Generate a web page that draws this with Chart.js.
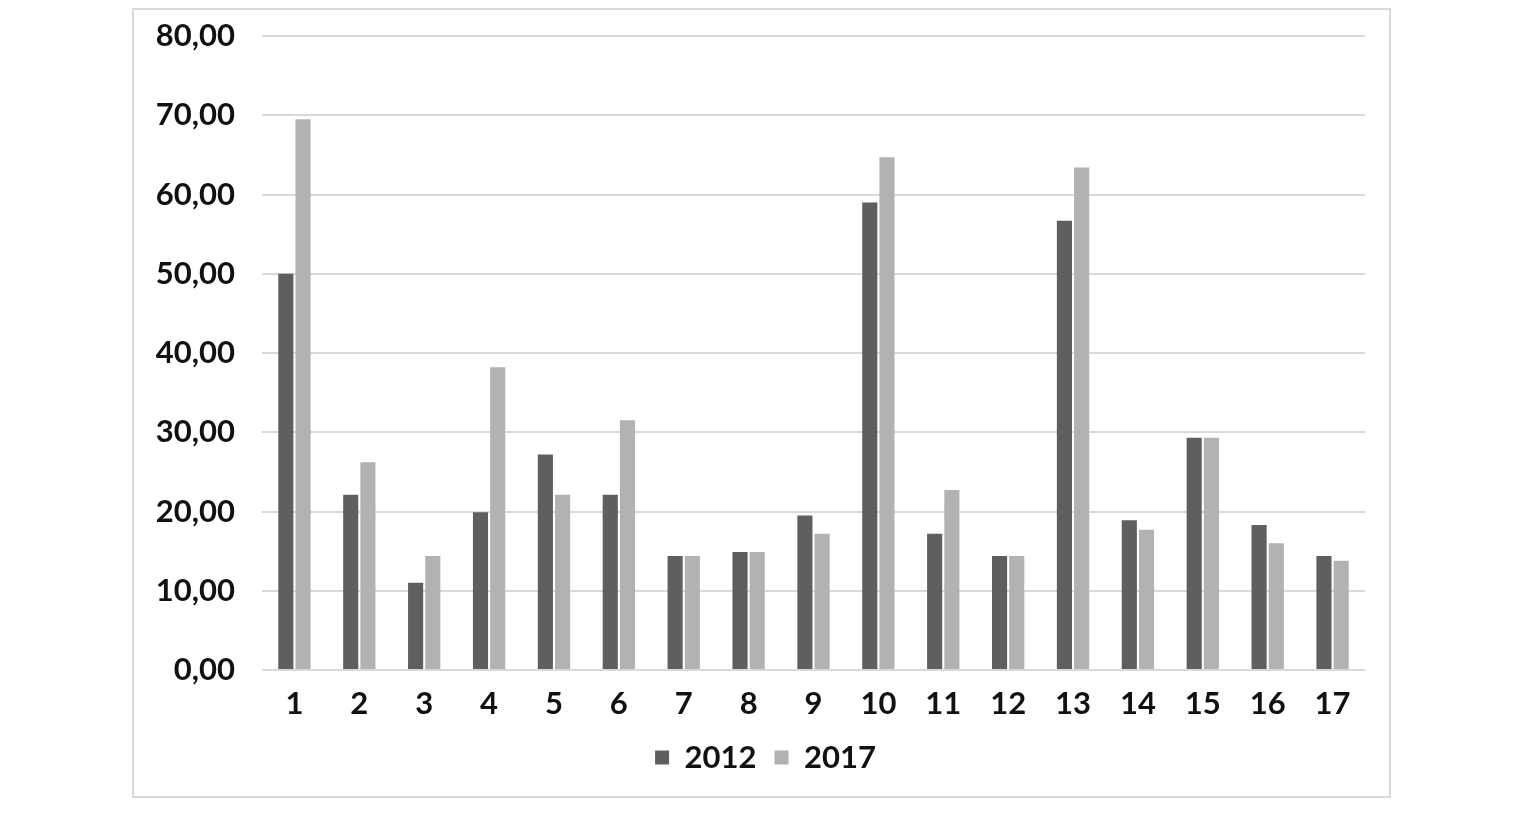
<!DOCTYPE html>
<html>
<head>
<meta charset="utf-8">
<script src="https://cdn.jsdelivr.net/npm/chart.js@4"></script>
<style>
  html, body { margin: 0; padding: 0; background: #fff; }
  body { width: 1521px; height: 814px; position: relative; overflow: hidden; }
  .chart-box {
    position: absolute; left: 132px; top: 8px;
    width: 1255px; height: 786px;
    border: 2px solid #d9d9d9; background: #fff;
  }
  .chart-box canvas { display: block; }
</style>
</head>
<body>
<div class="chart-box"><canvas id="chart"></canvas></div>
<script>
// categories and series values
const categories = ['1', '2', '3', '4', '5', '6', '7', '8', '9', '10', '11', '12', '13', '14', '15', '16', '17'];
const values2012 = [50.0, 22.1, 11.0, 19.9, 27.2, 22.1, 14.4, 14.9, 19.5, 59.0, 17.2, 14.4, 56.7, 18.9, 29.3, 18.3, 14.4];
const values2017 = [69.5, 26.2, 14.4, 38.2, 22.1, 31.5, 14.4, 14.9, 17.2, 64.7, 22.7, 14.4, 63.4, 17.7, 29.3, 16.0, 13.8];
const seriesLabels = ['2012', '2017'];
const yTicks = { min: 0, max: 80, step: 10 };

const FONT = 'Lato, sans-serif';
const FONT_SIZE = 31;

// legend is centred on the whole box in the reference, not on the plot
const legendShift = {
  id: 'legendShift',
  afterLayout(chart) {
    chart.legend.left += 16;
    chart.legend.right += 16;
  }
};

const ctx = document.getElementById('chart').getContext('2d');
new Chart(ctx, {
  type: 'bar',
  data: {
    labels: categories,
    datasets: [{
      label: seriesLabels[0],
      data: values2012,
      backgroundColor: '#5f5f5f',
      categoryPercentage: 0.53,
      barPercentage: 0.88
    }, {
      label: seriesLabels[1],
      data: values2017,
      backgroundColor: '#b2b2b2',
      categoryPercentage: 0.53,
      barPercentage: 0.88
    }]
  },
  plugins: [legendShift],
  options: {
    responsive: true,
    maintainAspectRatio: false,
    animation: false,
    layout: {
      padding: { top: 26, right: 24, bottom: 13, left: 0 }
    },
    plugins: {
      tooltip: { enabled: false },
      legend: {
        position: 'bottom',
        labels: {
          boxWidth: 14,
          boxHeight: 14,
          padding: 18,
          color: '#111',
          font: { family: FONT, size: FONT_SIZE, weight: 'bold' }
        }
      }
    },
    scales: {
      y: {
        min: yTicks.min,
        max: yTicks.max,
        afterFit: (scale) => {
          scale.width = 128;
          scale.paddingTop = 0;
          scale.paddingBottom = 0;
        },
        border: { display: false },
        grid: { color: '#d9d9d9', lineWidth: 2, drawTicks: false },
        ticks: {
          stepSize: yTicks.step,
          padding: 27,
          color: '#111',
          font: { family: FONT, size: FONT_SIZE, weight: 'bold' },
          callback: (v) => v.toFixed(2).replace('.', ',')
        }
      },
      x: {
        afterFit: (scale) => { scale.height = 54; },
        border: { display: false },
        grid: { display: false, drawTicks: false },
        ticks: {
          padding: 15,
          color: '#111',
          maxRotation: 0,
          font: { family: FONT, size: FONT_SIZE, weight: 'bold' }
        }
      }
    }
  }
});
</script>
</body>
</html>
